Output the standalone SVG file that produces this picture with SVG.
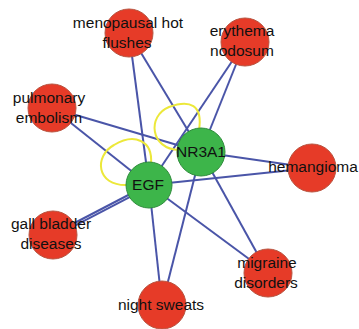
<svg xmlns="http://www.w3.org/2000/svg" width="359" height="329" viewBox="0 0 359 329">
  <style>
    .edge { stroke: #4a55a8; stroke-width: 2; fill: none; }
    .loop { stroke: #ece83a; stroke-width: 2; fill: none; }
    .disease { fill: #e63b28; stroke: #b85440; stroke-width: 1; }
    .gene { fill: #3db54a; stroke: #2f8c3c; stroke-width: 1; }
    text { font-family: "Liberation Sans", Arial, sans-serif; font-size: 15.5px; fill: #111; text-anchor: middle; }
  </style>
  <rect width="359" height="329" fill="#ffffff"/>

  <!-- connectors -->
  <g id="edges">
    <!-- menopausal hot flushes -->
    <line class="edge" x1="129" y1="33" x2="149" y2="185"/>
    <line class="edge" x1="129" y1="33" x2="201" y2="152"/>
    <!-- pulmonary embolism -->
    <line class="edge" x1="52" y1="108" x2="149" y2="185"/>
    <line class="edge" x1="52" y1="108" x2="201" y2="152"/>
    <!-- erythema nodosum -->
    <line class="edge" x1="245" y1="42" x2="149" y2="185"/>
    <line class="edge" x1="245" y1="42" x2="201" y2="152"/>
    <!-- hemangioma -->
    <line class="edge" x1="312" y1="168" x2="149" y2="185"/>
    <line class="edge" x1="312" y1="168" x2="201" y2="152"/>
    <!-- gall bladder diseases (double) -->
    <line class="edge" x1="52.5" y1="234.5" x2="148.5" y2="184.5"/>
    <line class="edge" x1="53.8" y1="236.6" x2="149.8" y2="186.6"/>
    <!-- night sweats -->
    <line class="edge" x1="162" y1="305" x2="149" y2="185"/>
    <line class="edge" x1="162" y1="305" x2="201" y2="152"/>
    <!-- migraine disorders -->
    <line class="edge" x1="268" y1="273" x2="149" y2="185"/>
    <line class="edge" x1="268" y1="273" x2="201" y2="152"/>
    <!-- self loops -->
    <path class="loop" d="M 127 185 C 96 186, 94 156, 114 145 C 134 133, 153 140, 151 164"/>
    <path class="loop" d="M 179 150 C 150 149, 147 116, 169 107 C 190 99, 203 105, 199 130"/>
  </g>

  <g id="menopausal-hot-flushes">
    <circle class="disease" cx="129" cy="33" r="24"/>
    <text x="128" y="28">menopausal hot</text>
    <text x="127" y="48">flushes</text>
  </g>
  <g id="erythema-nodosum">
    <circle class="disease" cx="245" cy="42" r="24"/>
    <text x="242" y="36">erythema</text>
    <text x="242" y="56">nodosum</text>
  </g>
  <g id="pulmonary-embolism">
    <circle class="disease" cx="52" cy="108" r="24"/>
    <text x="49" y="103">pulmonary</text>
    <text x="49" y="123">embolism</text>
  </g>
  <g id="hemangioma">
    <circle class="disease" cx="312" cy="168" r="24"/>
    <text x="313" y="172">hemangioma</text>
  </g>
  <g id="gall-bladder-diseases">
    <circle class="disease" cx="53" cy="235" r="24"/>
    <text x="51" y="229">gall bladder</text>
    <text x="51" y="249">diseases</text>
  </g>
  <g id="night-sweats">
    <circle class="disease" cx="162" cy="305" r="24"/>
    <text x="161" y="310">night sweats</text>
  </g>
  <g id="migraine-disorders">
    <circle class="disease" cx="268" cy="273" r="24"/>
    <text x="267" y="268">migraine</text>
    <text x="266" y="288">disorders</text>
  </g>
  <g id="EGF">
    <circle class="gene" cx="149" cy="185" r="23"/>
    <text x="148" y="190">EGF</text>
  </g>
  <g id="NR3A1">
    <circle class="gene" cx="201" cy="152" r="24"/>
    <text x="201" y="157">NR3A1</text>
  </g>
</svg>
